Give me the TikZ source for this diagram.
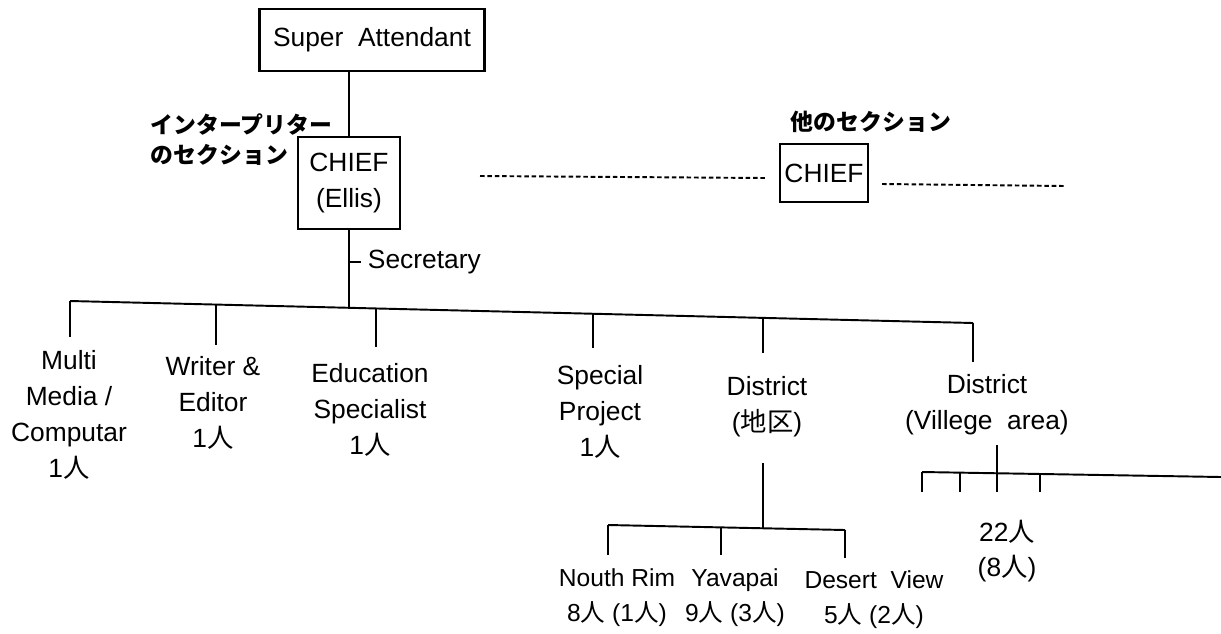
\documentclass[tikz,border=0pt]{standalone}
\usepackage{fontspec}
\setmainfont{Liberation Sans}
\newfontfamily\cjk{Noto Sans CJK JP}
\newcommand{\ja}[1]{{\cjk #1}}
\begin{document}
\begin{tikzpicture}[x=0.02cm,y=-0.02cm,
  line width=1.1pt,
  box/.style={draw,line width=1.2pt,inner sep=0pt,font=\fontsize{15}{19}\selectfont},
  lbl/.style={align=center,inner sep=0pt,font=\fontsize{15}{20.4}\selectfont},
  slbl/.style={align=center,inner sep=0pt,font=\fontsize{14}{20}\selectfont},
  jlbl/.style={align=left,inner sep=0pt,font=\fontsize{13}{17}\selectfont\cjk\bfseries},
  dots/.style={line width=1.1pt,dash pattern=on 2.6pt off 1.6pt}]
\useasboundingbox (0,0) rectangle (1221,633);

% boxes
\node[box,minimum width=4.5cm,minimum height=1.24cm] (sa) at (372,40) {Super\ \ Attendant};
\node[box,minimum width=2.04cm,minimum height=1.84cm,align=center] (chief) at (349,183) {CHIEF\\[2pt](Ellis)};
\node[box,minimum width=1.76cm,minimum height=1.16cm] (oc) at (824,173) {CHIEF};

% Japanese labels
\node[jlbl,anchor=west] (interp) at (150,140) {インタープリター\\のセクション};
\node[jlbl,anchor=west] (other) at (790,122) {他のセクション};

% top line
\draw (chief.north |- sa.south) -- (chief.north);

% dotted lines
\coordinate (d1a) at (480,176);
\coordinate (d1b) at (765,178);
\coordinate (d2a) at (882,184);
\coordinate (d2b) at (1065,186);
\draw[dots] (d1a) -- (d1b);
\draw[dots] (d2a) -- (d2b);

% secretary
\coordinate (bc) at (349,307.8);
\coordinate (sect) at (349,262);
\node[lbl,anchor=west] (sec) at (367,262) {Secretary};
\draw (chief.south) -- (bc);
\draw (sect) -- ++(12,0);

% main bar
\coordinate (b1) at (70,301);
\coordinate (b2) at (216,304.6);
\coordinate (b3) at (376,308.5);
\coordinate (b4) at (593,313.7);
\coordinate (b5) at (763,317.9);
\coordinate (b6) at (973,323);
\draw (b1) -- (b6);

% column labels
\node[lbl] (mm) at (69,415) {Multi\\Media /\\Computar\\1\ja{人}};
\node[lbl] (we) at (213,403) {Writer \&\\Editor\\1\ja{人}};
\node[lbl] (es) at (370,410) {Education\\Specialist\\1\ja{人}};
\node[lbl] (sp) at (600,412) {Special\\Project\\1\ja{人}};
\node[lbl] (d1) at (767,407) {District\\(\ja{地区})};
\node[lbl] (d2) at (987,405) {District\\(Villege\ \ area)};

\coordinate (e1) at (70,337);
\coordinate (e2) at (216,345);
\coordinate (e3) at (376,347);
\coordinate (e4) at (593,348);
\coordinate (e5) at (763,353);
\coordinate (e6) at (973,362);
\draw (b1) -- (e1);
\draw (b2) -- (e2);
\draw (b3) -- (e3);
\draw (b4) -- (e4);
\draw (b5) -- (e5);
\draw (b6) -- (e6);

% district sub-tree
\coordinate (s0) at (763,463);
\coordinate (sc) at (763,528.5);
\coordinate (s1) at (608,525);
\coordinate (s2) at (721,527.4);
\coordinate (s3) at (845,530);
\coordinate (t1) at (608,555);
\coordinate (t2) at (721,555);
\coordinate (t3) at (845,558);
\draw (s0) -- (sc);
\draw (s1) -- (s3);
\draw (s1) -- (t1);
\draw (s2) -- (t2);
\draw (s3) -- (t3);

\node[slbl] (nr) at (617,598) {Nouth\ Rim\\8\ja{人}\ (1\ja{人})};
\node[slbl] (yv) at (735,598) {Yavapai\\9\ja{人}\ (3\ja{人})};
\node[slbl] (dv) at (874,600) {Desert\ \ View\\5\ja{人}\ (2\ja{人})};

% village sub-tree
\coordinate (v0) at (997,445);
\coordinate (vc) at (997,473.3);
\coordinate (v1) at (922,472);
\coordinate (v2) at (960,472.6);
\coordinate (v4) at (1040,474);
\coordinate (v5) at (1221,477);
\coordinate (w1) at (922,492);
\coordinate (w2) at (960,492);
\coordinate (w3) at (997,492);
\coordinate (w4) at (1040,492);
\draw (v0) -- (vc);
\draw (v1) -- (v5);
\draw (v1) -- (w1);
\draw (v2) -- (w2);
\draw (vc) -- (w3);
\draw (v4) -- (w4);

\node[lbl] (vl) at (1007,551) {22\ja{人}\\(8\ja{人})};
\end{tikzpicture}
\end{document}
